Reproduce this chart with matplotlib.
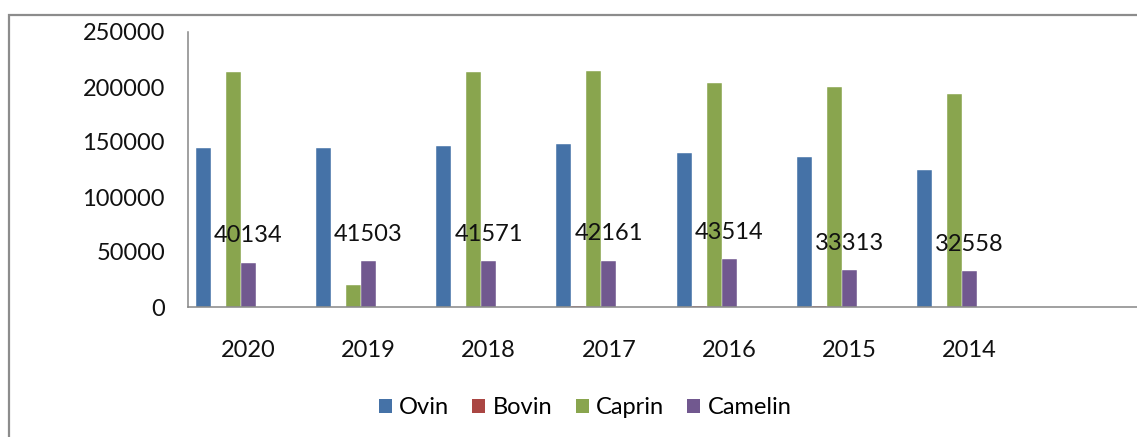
import numpy as np
import matplotlib
matplotlib.use('Agg')
import matplotlib.pyplot as plt
from matplotlib.patches import Rectangle, Patch

plt.rcParams['font.family'] = ['Lato', 'DejaVu Sans']

years = ['2020', '2019', '2018', '2017', '2016', '2015', '2014']
series = ['Ovin', 'Bovin', 'Caprin', 'Camelin']
ovin = [145000, 145000, 146000, 148400, 140300, 136600, 124800]
bovin = [0, 0, 0, 1000, 1000, 1000, 0]
caprin = [213900, 20000, 213900, 214800, 203300, 199700, 193900]
camelin = [40134, 41503, 41571, 42161, 43514, 33313, 32558]
colors = ['#4572A7', '#AA4643', '#89A54E', '#71588F']

W, H = 1137, 437
fig = plt.figure(figsize=(W / 100, H / 100), dpi=100)
ax = fig.add_axes([188 / W, 1 - 307 / H, 962 / W, 275 / H])

x = np.arange(len(years))
w = 0.125
for i, (vals, c) in enumerate(zip([ovin, bovin, caprin, camelin], colors)):
    ax.bar(x - 0.375 + i * w, vals, width=w, color=c, edgecolor='white', linewidth=0.3)

# labels du camelin
for xi, v in zip(x, camelin):
    ax.annotate(str(v), (xi, v), xytext=(0, 19.5), textcoords='offset points',
                ha='center', va='center', fontsize=17, color='#111111')

ax.set_xlim(-0.5, 7.5)
ax.set_ylim(0, 250000)
ax.set_yticks(np.arange(0, 250001, 50000))
ax.set_yticklabels([str(v) for v in range(0, 250001, 50000)])
ax.set_xticks(x)
ax.set_xticklabels(years)
ax.tick_params(axis='y', length=0, pad=16.6, labelsize=17, labelcolor='#111111')
ax.tick_params(axis='x', length=0, pad=24, labelsize=17, labelcolor='#111111')
for s in ['top', 'right']:
    ax.spines[s].set_visible(False)
for s in ['left', 'bottom']:
    ax.spines[s].set_color('#868686')
    ax.spines[s].set_linewidth(1.1)

handles = [Patch(facecolor=c, edgecolor='none') for c in colors]
fig.legend(handles, series, loc='center', bbox_to_anchor=(585 / W, 1 - 408 / H),
           ncol=4, frameon=False, fontsize=17, handlelength=0.55, handleheight=0.55,
           handletextpad=0.3, columnspacing=1.0)

fig.add_artist(Rectangle((9 / W, -0.1), 1.2, 1 - 15 / H + 0.1, transform=fig.transFigure,
                         fill=False, edgecolor='#8c8c8c', linewidth=1.6))

fig.savefig('out.png', dpi=100)
